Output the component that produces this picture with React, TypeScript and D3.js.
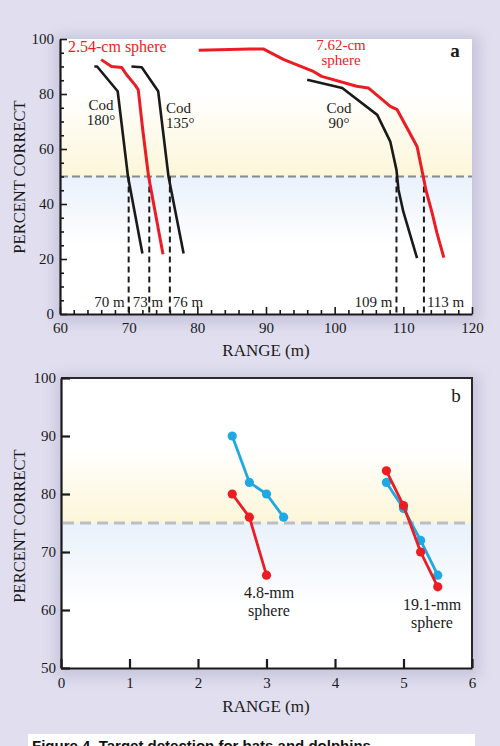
import React, { useRef, useEffect } from "react";
import * as d3 from "d3";

type Pt = [number, number];

// ---- panel a: range (m) vs percent correct ----
const cod180: Pt[] = [[65.0, 90], [65.4, 90], [68.4, 81], [69.9, 50], [72.0, 22]];
const cod135: Pt[] = [[70.4, 90], [71.9, 89.7], [74.3, 81], [75.8, 50], [78.0, 22]];
const cod90: Pt[] = [[96.0, 85.2], [101.1, 82.2], [106.2, 72.4], [108.1, 62.7], [109.0, 52.4], [109.3, 45.1], [110.0, 37.2], [112.0, 20.3]];
const sphere254: Pt[] = [[66.0, 92.5], [67.5, 90], [69.0, 89.6], [69.7, 87], [70.9, 83.4], [71.4, 81.5], [72.05, 67], [72.9, 50], [75.0, 21.7]];
const sphere762: Pt[] = [[80.2, 95.9], [87.7, 96.4], [89.6, 96.4], [92.6, 92.5], [96.9, 88.2], [98.1, 86.4], [103.2, 82.8], [104.9, 82.2], [108.1, 75.5], [109.1, 74.3], [112.0, 60.9], [112.9, 50], [113.3, 45], [114.2, 36.7], [114.9, 29.4], [115.9, 20.5]];
const thresholdsA = [70, 73, 76, 109, 113];
const ticksAX = [60, 70, 80, 90, 100, 110, 120];
const ticksAY = [0, 20, 40, 60, 80, 100];

// ---- panel b ----
const blue48: Pt[] = [[2.5, 90], [2.75, 82], [3.0, 80], [3.25, 76]];
const red48: Pt[] = [[2.5, 80], [2.75, 76], [3.0, 66]];
const blue191: Pt[] = [[4.75, 82], [5.0, 77.5], [5.25, 72], [5.5, 66]];
const red191: Pt[] = [[4.75, 84], [5.0, 78], [5.25, 70], [5.5, 64]];
const ticksBX = [0, 1, 2, 3, 4, 5, 6];
const ticksBY = [50, 60, 70, 80, 90, 100];

const W = 500;
const H = 746;
const RED = "#ec1c24";
const BLUE = "#1ea8e4";
const INK = "#1a1a1a";
const SERIF = "'Liberation Serif', 'Times New Roman', serif";

const App: React.FC = () => {
  const svgRef = useRef<SVGSVGElement | null>(null);

  useEffect(() => {
    document.body.style.margin = "0";
    const svg = d3.select(svgRef.current).attr("width", W).attr("height", H);
    svg.selectAll("*").remove();

    const defs = svg.append("defs");
    defs
      .append("filter")
      .attr("id", "shadow")
      .attr("x", "-20%")
      .attr("y", "-20%")
      .attr("width", "140%")
      .attr("height", "140%")
      .append("feGaussianBlur")
      .attr("stdDeviation", 7);

    const grad = (id: string, y0: number, y1: number, c0: string, c1: string) => {
      const g = defs
        .append("linearGradient")
        .attr("id", id)
        .attr("gradientUnits", "userSpaceOnUse")
        .attr("x1", 0)
        .attr("x2", 0)
        .attr("y1", y0)
        .attr("y2", y1);
      g.append("stop").attr("offset", 0).attr("stop-color", c0);
      g.append("stop").attr("offset", 1).attr("stop-color", c1);
    };

    // background
    svg.append("rect").attr("width", W).attr("height", H).attr("fill", "#e1dfef");

    const xA = d3.scaleLinear().domain([60, 120]).range([60, 472]);
    const yA = d3.scaleLinear().domain([0, 100]).range([314, 39]);
    const xB = d3.scaleLinear().domain([0, 6]).range([61, 472]);
    const yB = d3.scaleLinear().domain([50, 100]).range([668, 378]);

    // panel boxes with soft shadow
    const box = (x0: number, y0: number, x1: number, y1: number) => {
      svg
        .append("rect")
        .attr("x", x0 - 6)
        .attr("y", y0 - 4)
        .attr("width", x1 - x0 + 14)
        .attr("height", y1 - y0 + 14)
        .attr("fill", "#c8c5dc")
        .attr("filter", "url(#shadow)");
      svg
        .append("rect")
        .attr("x", x0)
        .attr("y", y0)
        .attr("width", x1 - x0)
        .attr("height", y1 - y0)
        .attr("fill", "#fff");
    };
    box(60, 39, 472, 314);
    box(61, 378, 472, 668);

    // soft bands around the threshold line
    grad("yelA", yA(80), yA(50), "#ffffff", "#fcf6d8");
    grad("bluA", yA(50), yA(25), "#e9f1fb", "#ffffff");
    grad("yelB", yB(88), yB(75), "#ffffff", "#fcf6d8");
    grad("bluB", yB(75), yB(60), "#e9f1fb", "#ffffff");
    svg.append("rect").attr("x", 61).attr("y", yA(80)).attr("width", 411).attr("height", yA(50) - yA(80)).attr("fill", "url(#yelA)");
    svg.append("rect").attr("x", 61).attr("y", yA(50)).attr("width", 411).attr("height", yA(25) - yA(50)).attr("fill", "url(#bluA)");
    svg.append("rect").attr("x", 62).attr("y", yB(88)).attr("width", 410).attr("height", yB(75) - yB(88)).attr("fill", "url(#yelB)");
    svg.append("rect").attr("x", 62).attr("y", yB(75)).attr("width", 410).attr("height", yB(60) - yB(75)).attr("fill", "url(#bluB)");

    const styleAxis = (g: d3.Selection<SVGGElement, unknown, null, undefined>, fs = 15) => {
      g.selectAll("text").style("font-family", SERIF).style("font-size", fs + "px").style("fill", INK);
      g.selectAll("line").style("stroke", INK).style("stroke-width", 1.6);
      g.selectAll("path").style("stroke", INK).style("stroke-width", 2.2);
    };
    const intFmt = d3.format("d");

    // ================= PANEL A =================
    const a = svg.append("g");

    // threshold line at 50 %
    a.append("line")
      .attr("x1", xA(60)).attr("x2", xA(120))
      .attr("y1", yA(50)).attr("y2", yA(50))
      .attr("stroke", "#8a8a8a").attr("stroke-width", 2).attr("stroke-dasharray", "8,4");

    // vertical dashed drops
    a.selectAll(".drop")
      .data(thresholdsA)
      .enter()
      .append("line")
      .attr("x1", (d) => xA(d)).attr("x2", (d) => xA(d))
      .attr("y1", yA(50)).attr("y2", yA(0))
      .attr("stroke", INK).attr("stroke-width", 2).attr("stroke-dasharray", "6,4");

    const lineA = d3.line<Pt>().x((d) => xA(d[0])).y((d) => yA(d[1]));
    const seriesA: [Pt[], string][] = [
      [cod180, INK], [cod135, INK], [cod90, INK], [sphere254, RED], [sphere762, RED],
    ];
    seriesA.forEach(([pts, c]) => {
      a.append("path").datum(pts).attr("d", lineA).attr("fill", "none")
        .attr("stroke", c).attr("stroke-width", c === RED ? 3 : 2.6)
        .attr("stroke-linejoin", "round");
    });

    // axes
    const axAyMinor = a.append("g").attr("transform", `translate(${xA(60)},0)`)
      .call(d3.axisLeft(yA).tickValues(d3.range(5, 100, 5).filter((v) => v % 20 !== 0)).tickSize(-4).tickFormat(() => ""));
    axAyMinor.select(".domain").remove();
    styleAxis(axAyMinor);
    const axAxMinor = a.append("g").attr("transform", `translate(0,${yA(0)})`)
      .call(d3.axisBottom(xA).tickValues(d3.range(62, 120, 2).filter((v) => v % 10 !== 0)).tickSize(-4).tickFormat(() => ""));
    axAxMinor.select(".domain").remove();
    styleAxis(axAxMinor);

    const axAy = a.append("g").attr("transform", `translate(${xA(60)},0)`)
      .call(d3.axisLeft(yA).tickValues(ticksAY).tickFormat(intFmt as any).tickSize(-7).tickSizeOuter(0).tickPadding(6));
    styleAxis(axAy);
    const axAx = a.append("g").attr("transform", `translate(0,${yA(0)})`)
      .call(d3.axisBottom(xA).tickValues(ticksAX).tickFormat(intFmt as any).tickSize(-7).tickSizeOuter(0).tickPadding(8));
    styleAxis(axAx);

    const txt = (g: d3.Selection<SVGGElement, unknown, null, undefined>, x: number, y: number, lines: string[], color: string, anchor = "middle", fs = 15, lh = 15) => {
      const t = g.append("text").attr("x", x).attr("y", y).attr("text-anchor", anchor)
        .style("font-family", SERIF).style("font-size", fs + "px").style("fill", color);
      lines.forEach((l, i) => t.append("tspan").attr("x", x).attr("dy", i === 0 ? 0 : lh).text(l));
    };

    txt(a, 68, 52, ["2.54-cm sphere"], RED, "start", 16);
    txt(a, 341, 50, ["7.62-cm", "sphere"], RED);
    txt(a, 101, 110, ["Cod", "180°"], INK);
    txt(a, 166, 113, ["Cod", "135°"], INK, "start");
    txt(a, 339, 113, ["Cod", "90°"], INK);

    txt(a, xA(70) - 4, 307, ["70 m"], INK, "end");
    txt(a, xA(70) + 4, 307, ["73 m"], INK, "start");
    txt(a, xA(76) + 3, 307, ["76 m"], INK, "start");
    txt(a, xA(109) - 4, 307, ["109 m"], INK, "end");
    txt(a, xA(113) + 3, 307, ["113 m"], INK, "start");

    a.append("text").attr("x", 455).attr("y", 57).attr("text-anchor", "middle")
      .style("font-family", SERIF).style("font-size", "19px").style("font-weight", "700").style("fill", INK).text("a");

    a.append("text").attr("transform", "translate(25,177) rotate(-90)").attr("text-anchor", "middle")
      .style("font-family", SERIF).style("font-size", "16.5px").style("fill", INK).text("PERCENT CORRECT");
    a.append("text").attr("x", 266).attr("y", 356).attr("text-anchor", "middle")
      .style("font-family", SERIF).style("font-size", "17px").style("fill", INK).text("RANGE (m)");

    // ================= PANEL B =================
    const b = svg.append("g");

    b.append("line")
      .attr("x1", xB(0) + 2).attr("x2", xB(6))
      .attr("y1", yB(75)).attr("y2", yB(75))
      .attr("stroke", "#bdbcc8").attr("stroke-width", 3).attr("stroke-dasharray", "11,6");

    // frame top and right
    b.append("path")
      .attr("d", `M${xB(0)},${yB(100)}H${xB(6)}V${yB(50)}`)
      .attr("fill", "none").attr("stroke", "#2a2a2a").attr("stroke-width", 2);

    const lineB = d3.line<Pt>().x((d) => xB(d[0])).y((d) => yB(d[1]));
    const seriesB: [Pt[], string][] = [
      [blue48, BLUE], [red48, RED], [blue191, BLUE], [red191, RED],
    ];
    seriesB.forEach(([pts, c]) => {
      b.append("path").datum(pts).attr("d", lineB).attr("fill", "none")
        .attr("stroke", c).attr("stroke-width", 2.8);
      b.selectAll(null).data(pts).enter().append("circle")
        .attr("cx", (d) => xB(d[0])).attr("cy", (d) => yB(d[1]))
        .attr("r", 4.6).attr("fill", c);
    });

    const axBy = b.append("g").attr("transform", `translate(${xB(0)},0)`)
      .call(d3.axisLeft(yB).tickValues(ticksBY).tickFormat(intFmt as any).tickSize(-9).tickSizeOuter(0).tickPadding(5));
    styleAxis(axBy);
    const axBx = b.append("g").attr("transform", `translate(0,${yB(50)})`)
      .call(d3.axisBottom(xB).tickValues(ticksBX).tickFormat(intFmt as any).tickSize(-9).tickSizeOuter(0).tickPadding(9));
    styleAxis(axBx);
    axBy.selectAll("line").style("stroke-width", 2.2);
    axBx.selectAll("line").style("stroke-width", 2.2);

    txt(b, 269, 598, ["4.8-mm", "sphere"], INK, "middle", 16, 18);
    txt(b, 432, 610, ["19.1-mm", "sphere"], INK, "middle", 16, 18);

    b.append("text").attr("x", 456).attr("y", 402).attr("text-anchor", "middle")
      .style("font-family", SERIF).style("font-size", "19px").style("fill", INK).text("b");

    b.append("text").attr("transform", "translate(25,526) rotate(-90)").attr("text-anchor", "middle")
      .style("font-family", SERIF).style("font-size", "16.5px").style("fill", INK).text("PERCENT CORRECT");
    b.append("text").attr("x", 266).attr("y", 712).attr("text-anchor", "middle")
      .style("font-family", SERIF).style("font-size", "17px").style("fill", INK).text("RANGE (m)");

    // caption strip (cut off at the bottom, as in the figure)
    svg.append("rect").attr("x", 28).attr("y", 734).attr("width", 447).attr("height", 20).attr("fill", "#fff");
    svg.append("text").attr("x", 32).attr("y", 751)
      .style("font-family", "'Liberation Sans', Arial, sans-serif").style("font-size", "15px")
      .style("font-weight", "700").style("fill", "#111")
      .text("Figure 4. Target detection for bats and dolphins");
  }, []);

  return <svg ref={svgRef} style={{ display: "block" }}></svg>;
};

export default App;
